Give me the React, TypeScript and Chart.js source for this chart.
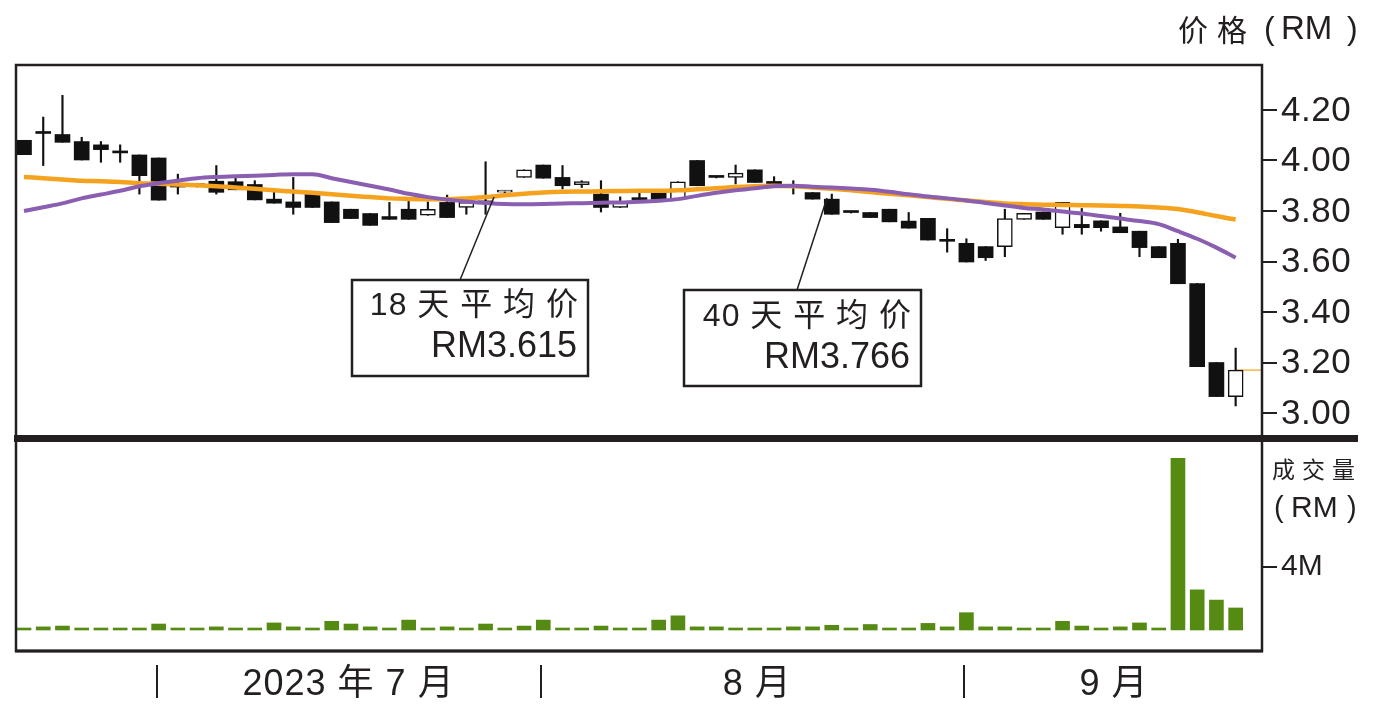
import React, { useEffect, useRef } from 'react';
import { Chart, registerables } from 'chart.js';
Chart.register(...registerables);

// ---------------- DATA ----------------
const opens = [4.08, 4.107, 4.103, 4.075, 4.062, 4.03, 4.022, 4.01, 3.9, 3.905, 3.918, 3.916, 3.905, 3.847, 3.836, 3.867, 3.836, 3.807, 3.79, 3.778, 3.807, 3.783, 3.834, 3.814, 3.84, 3.875, 3.933, 3.982, 3.933, 3.904, 3.867, 3.814, 3.85, 3.871, 3.847, 4.0, 3.933, 3.933, 3.963, 3.917, 3.895, 3.873, 3.847, 3.794, 3.794, 3.807, 3.76, 3.771, 3.683, 3.672, 3.659, 3.659, 3.767, 3.796, 3.734, 3.747, 3.761, 3.737, 3.72, 3.659, 3.672, 3.513, 3.2, 3.065];
const highs = [4.08, 4.172, 4.258, 4.092, 4.075, 4.062, 4.022, 4.01, 3.946, 3.91, 3.98, 3.937, 3.92, 3.887, 3.933, 3.867, 3.836, 3.807, 3.79, 3.834, 3.84, 3.836, 3.863, 3.84, 3.995, 3.88, 3.963, 3.982, 3.98, 3.92, 3.92, 3.856, 3.87, 3.871, 3.916, 4.0, 3.935, 3.982, 3.963, 3.936, 3.92, 3.873, 3.867, 3.796, 3.794, 3.807, 3.794, 3.771, 3.73, 3.69, 3.659, 3.807, 3.791, 3.796, 3.834, 3.81, 3.761, 3.791, 3.72, 3.659, 3.688, 3.513, 3.2, 3.257];
const lows = [4.023, 3.98, 4.072, 4.002, 3.993, 3.993, 3.867, 3.843, 3.867, 3.895, 3.867, 3.884, 3.844, 3.831, 3.787, 3.814, 3.754, 3.77, 3.743, 3.767, 3.767, 3.783, 3.774, 3.787, 3.787, 3.873, 3.933, 3.93, 3.887, 3.893, 3.796, 3.814, 3.84, 3.847, 3.847, 3.9, 3.931, 3.907, 3.913, 3.9, 3.867, 3.847, 3.787, 3.792, 3.774, 3.757, 3.732, 3.685, 3.637, 3.598, 3.604, 3.619, 3.767, 3.767, 3.708, 3.708, 3.72, 3.714, 3.619, 3.615, 3.512, 3.184, 3.065, 3.028];
const closes = [4.023, 4.107, 4.072, 4.002, 4.043, 4.03, 3.94, 3.843, 3.895, 3.9, 3.874, 3.884, 3.844, 3.831, 3.814, 3.814, 3.754, 3.77, 3.743, 3.767, 3.767, 3.807, 3.774, 3.834, 3.83, 3.877, 3.963, 3.93, 3.9, 3.917, 3.814, 3.834, 3.845, 3.847, 3.916, 3.9, 3.933, 3.95, 3.913, 3.9, 3.893, 3.847, 3.787, 3.794, 3.774, 3.757, 3.732, 3.685, 3.68, 3.598, 3.615, 3.77, 3.791, 3.767, 3.834, 3.734, 3.734, 3.714, 3.655, 3.615, 3.512, 3.184, 3.065, 3.17];
const ma18 = [3.8, 3.815, 3.83, 3.85, 3.865, 3.88, 3.898, 3.91, 3.92, 3.93, 3.935, 3.938, 3.94, 3.943, 3.946, 3.946, 3.93, 3.915, 3.9, 3.885, 3.868, 3.855, 3.845, 3.838, 3.832, 3.828, 3.827, 3.828, 3.83, 3.831, 3.833, 3.834, 3.837, 3.841, 3.847, 3.86, 3.872, 3.882, 3.89, 3.898, 3.9, 3.896, 3.893, 3.889, 3.884, 3.876, 3.866, 3.857, 3.85, 3.842, 3.832, 3.822, 3.812, 3.806, 3.798, 3.79, 3.78, 3.77, 3.76, 3.748, 3.72, 3.69, 3.655, 3.615];
const ma40 = [3.935, 3.93, 3.925, 3.92, 3.918, 3.915, 3.91, 3.908, 3.905, 3.902, 3.898, 3.893, 3.888, 3.882, 3.877, 3.872, 3.866, 3.86, 3.855, 3.85, 3.848, 3.847, 3.847, 3.85, 3.855, 3.862, 3.868, 3.873, 3.876, 3.877, 3.878, 3.879, 3.88, 3.88, 3.882, 3.886, 3.89, 3.895, 3.898, 3.9, 3.898, 3.893, 3.888, 3.882, 3.875, 3.868, 3.862, 3.855, 3.848, 3.842, 3.836, 3.83, 3.827, 3.825, 3.824, 3.823, 3.822, 3.82, 3.818, 3.814, 3.808, 3.795, 3.78, 3.766];
const volumes = [0.1, 0.2, 0.25, 0.1, 0.1, 0.1, 0.1, 0.38, 0.1, 0.1, 0.2, 0.1, 0.1, 0.45, 0.2, 0.1, 0.55, 0.38, 0.2, 0.1, 0.63, 0.1, 0.2, 0.1, 0.38, 0.1, 0.25, 0.63, 0.1, 0.1, 0.25, 0.05, 0.05, 0.63, 0.9, 0.2, 0.2, 0.1, 0.1, 0.1, 0.2, 0.2, 0.3, 0.1, 0.35, 0.1, 0.1, 0.42, 0.2, 1.1, 0.2, 0.2, 0.1, 0.1, 0.55, 0.25, 0.1, 0.2, 0.45, 0.1, 10.9, 2.55, 1.9, 1.4];
const priceTicks = [3.0, 3.2, 3.4, 3.6, 3.8, 4.0, 4.2];
const volumeTicks = [4];
const monthLabels = ['2023 年 7 月', '8 月', '9 月'];
const monthStarts = [7.9, 27.9, 49.85];
const monthCenters = [17.85, 39.1, 57.65];
const maLabels = ['18 天 平 均 价', '40 天 平 均 价'];
const maLast = ['RM3.615', 'RM3.766'];

// ---------------- STYLE ----------------
const FONT = '"Liberation Sans", "Noto Sans CJK SC", Arial, sans-serif';
const CJK = '"Noto Sans CJK SC", "Liberation Sans", sans-serif';
const INK = '#231f20';
const CANDLE = '#111111';
const PURPLE = '#8a5fb2';
const ORANGE = '#f5a21e';
const GREEN = '#558b13';
const X_MIN = 0.584;
const X_MAX = 65.37;

function drawText(ctx: CanvasRenderingContext2D, s: string, x: number, y: number, size: number, align: CanvasTextAlign = 'left', spacing = 0, family = FONT) {
  ctx.save();
  ctx.font = `${size}px ${family}`;
  (ctx as any).letterSpacing = `${spacing}px`;
  ctx.textAlign = align;
  ctx.textBaseline = 'middle';
  ctx.fillStyle = INK;
  const dx = align === 'right' ? spacing : align === 'center' ? spacing / 2 : 0;
  ctx.fillText(s, x + dx, y);
  ctx.restore();
}

export default function App() {
  const priceRef = useRef<HTMLCanvasElement | null>(null);
  const volRef = useRef<HTMLCanvasElement | null>(null);

  useEffect(() => {
    const days = closes.map((_, i) => i + 1);

    const pricePlugin = {
      id: 'priceDecor',
      afterDraw(chart: any) {
        const ctx = chart.ctx as CanvasRenderingContext2D;
        const a = chart.chartArea;
        const ys = chart.scales.y;
        ctx.save();
        ctx.strokeStyle = INK;
        ctx.lineWidth = 2.5;
        ctx.beginPath();
        ctx.moveTo(a.left, a.bottom);
        ctx.lineTo(a.left, a.top);
        ctx.lineTo(a.right, a.top);
        ctx.lineTo(a.right, a.bottom);
        ctx.stroke();
        ctx.fillStyle = INK;
        ctx.fillRect(a.left - 2, a.bottom, 1358 - a.left + 2, 7);
        ctx.restore();
        priceTicks.forEach((v) => {
          drawText(ctx, v.toFixed(2), a.right + 19, ys.getPixelForValue(v) + 1, 35, 'left', 0.5);
        });
        // title pieces
        drawText(ctx, '价', 1178, 30, 30, 'left', 0, CJK);
        drawText(ctx, '格', 1217, 30, 30, 'left', 0, CJK);
        drawText(ctx, '(', 1264, 30, 32);
        drawText(ctx, 'RM', 1281, 30, 33);
        drawText(ctx, ')', 1347, 30, 32);
        const boxes = [
          { x: 352, y: 280, w: 236, h: 96, lx: 460, tip: [494, 197], ty1: 306, ty2: 347 },
          { x: 684, y: 290, w: 237, h: 96, lx: 797, tip: [827, 198], ty1: 317, ty2: 358 },
        ];
        boxes.forEach((b, i) => {
          ctx.save();
          ctx.strokeStyle = INK;
          ctx.lineWidth = 1.5;
          ctx.beginPath();
          ctx.moveTo(b.lx, b.y);
          ctx.lineTo(b.tip[0], b.tip[1]);
          ctx.stroke();
          ctx.fillStyle = '#ffffff';
          ctx.fillRect(b.x, b.y, b.w, b.h);
          ctx.lineWidth = 2.5;
          ctx.strokeRect(b.x, b.y, b.w, b.h);
          ctx.restore();
          drawText(ctx, maLabels[i], b.x + b.w - 10, b.ty1, 32, 'right', 1);
          drawText(ctx, maLast[i], b.x + b.w - 11, b.ty2, 36, 'right', 0);
        });
      },
    };

    const volPlugin = {
      id: 'volDecor',
      afterDraw(chart: any) {
        const ctx = chart.ctx as CanvasRenderingContext2D;
        const a = chart.chartArea;
        const xs = chart.scales.x;
        const ys = chart.scales.y;
        ctx.save();
        ctx.strokeStyle = INK;
        ctx.lineWidth = 2.5;
        ctx.beginPath();
        ctx.moveTo(a.left, a.top);
        ctx.lineTo(a.left, a.bottom);
        ctx.lineTo(a.right, a.bottom);
        ctx.lineTo(a.right, a.top);
        ctx.stroke();
        ctx.lineWidth = 3;
        ctx.beginPath();
        ctx.moveTo(a.left - 1, a.bottom);
        ctx.lineTo(a.right + 1, a.bottom);
        ctx.stroke();
        ctx.lineWidth = 2;
        monthStarts.forEach((m) => {
          const px = Math.round(xs.getPixelForValue(m));
          ctx.beginPath();
          ctx.moveTo(px, a.bottom + 14);
          ctx.lineTo(px, a.bottom + 47);
          ctx.stroke();
        });
        ctx.restore();
        monthLabels.forEach((m, i) => {
          drawText(ctx, m, xs.getPixelForValue(monthCenters[i]), a.bottom + 34, 36, 'center', 1);
        });
        drawText(ctx, '成交量', a.right + 10, 27, 23, 'left', 7, CJK);
        drawText(ctx, '(', a.right + 12, 67, 29);
        drawText(ctx, 'RM', a.right + 29, 67, 30);
        drawText(ctx, ')', a.right + 85, 67, 29);
        volumeTicks.forEach((v) => {
          drawText(ctx, `${v}M`, a.right + 19, ys.getPixelForValue(v), 30, 'left', 0);
        });
      },
    };

    const priceChart = new Chart(priceRef.current as HTMLCanvasElement, {
      type: 'bar',
      data: {
        datasets: [
          {
            type: 'line',
            label: '18天平均价',
            data: days.map((d, i) => ({ x: d, y: ma18[i] })),
            borderColor: PURPLE,
            borderWidth: 4,
            pointRadius: 0,
            cubicInterpolationMode: 'monotone',
            order: 0,
          } as any,
          {
            type: 'line',
            label: '40天平均价',
            data: days.map((d, i) => ({ x: d, y: ma40[i] })),
            borderColor: ORANGE,
            borderWidth: 4.5,
            pointRadius: 0,
            cubicInterpolationMode: 'monotone',
            order: 0,
          } as any,
          {
            type: 'line',
            label: 'last',
            data: [
              { x: days[days.length - 1], y: closes[closes.length - 1] },
              { x: X_MAX, y: closes[closes.length - 1] },
            ],
            borderColor: ORANGE,
            borderWidth: 1.2,
            pointRadius: 0,
            order: 3,
          } as any,
          {
            type: 'bar',
            label: 'body',
            data: days.map((d, i) => ({ x: d, y: [opens[i], closes[i]] })),
            backgroundColor: days.map((_, i) => (closes[i] > opens[i] ? '#ffffff' : CANDLE)),
            borderColor: CANDLE,
            borderWidth: days.map((_, i) => (closes[i] > opens[i] ? 1.5 : 0)),
            borderSkipped: false,
            barThickness: 15,
            minBarLength: 2,
            grouped: false,
            order: 1,
          } as any,
          {
            type: 'bar',
            label: 'wick',
            data: days.map((d, i) => ({ x: d, y: [lows[i], highs[i]] })),
            backgroundColor: CANDLE,
            borderWidth: 0,
            barThickness: 1.5,
            minBarLength: 1,
            grouped: false,
            order: 2,
          } as any,
        ],
      },
      options: {
        animation: false,
        responsive: false,
        maintainAspectRatio: false,
        layout: { padding: { left: 16, top: 65, bottom: 7, right: 0 } },
        plugins: { legend: { display: false }, tooltip: { enabled: false } },
        scales: {
          x: { type: 'linear', min: X_MIN, max: X_MAX, display: false, offset: false },
          y: {
            position: 'right',
            min: 2.9129,
            max: 4.3782,
            afterFit: (s: any) => { s.width = 116; },
            afterBuildTicks: (s: any) => { s.ticks = priceTicks.map((v) => ({ value: v })); },
            grid: { drawOnChartArea: false, drawTicks: true, tickLength: 15, lineWidth: 2, color: INK },
            border: { display: false },
            ticks: { display: false },
          },
        },
      } as any,
      plugins: [pricePlugin],
    });

    const volChart = new Chart(volRef.current as HTMLCanvasElement, {
      type: 'bar',
      data: {
        datasets: [
          {
            label: '成交量',
            data: days.map((d, i) => ({ x: d, y: volumes[i] })),
            backgroundColor: GREEN,
            borderWidth: 0,
            barThickness: 14,
            minBarLength: 2,
          } as any,
        ],
      },
      options: {
        animation: false,
        responsive: false,
        maintainAspectRatio: false,
        layout: { padding: { left: 16, top: 0, bottom: 56, right: 0 } },
        plugins: { legend: { display: false }, tooltip: { enabled: false } },
        scales: {
          x: { type: 'linear', min: X_MIN, max: X_MAX, display: false, offset: false },
          y: {
            position: 'right',
            min: -1.333,
            max: 11.94,
            afterFit: (s: any) => { s.width = 116; },
            afterBuildTicks: (s: any) => { s.ticks = volumeTicks.map((v) => ({ value: v })); },
            grid: { drawOnChartArea: false, drawTicks: true, tickLength: 15, lineWidth: 2, color: INK },
            border: { display: false },
            ticks: { display: false },
          },
        },
      } as any,
      plugins: [volPlugin],
    });

    return () => {
      priceChart.destroy();
      volChart.destroy();
    };
  }, []);

  return (
    <div style={{ position: 'fixed', left: 0, top: 0, width: 1378, height: 707, background: '#ffffff' }}>
      <canvas ref={priceRef} width={1378} height={442} style={{ position: 'absolute', left: 0, top: 0, width: 1378, height: 442 }} />
      <canvas ref={volRef} width={1378} height={265} style={{ position: 'absolute', left: 0, top: 442, width: 1378, height: 265 }} />
    </div>
  );
}
